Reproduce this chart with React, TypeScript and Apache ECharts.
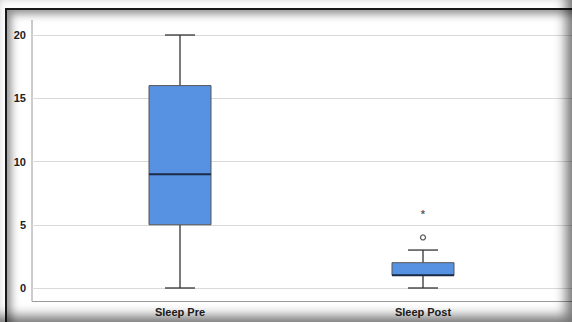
import React, { useEffect, useRef } from "react";
import * as echarts from "echarts";

const categories = ["Sleep Pre", "Sleep Post"];
const whiskerLow = [0, 0];
const q1 = [5, 1];
const median = [9, 1];
const q3 = [16, 2];
const whiskerHigh = [20, 3];
const outliers: [number, number][] = [[1, 4]];
const extremes: [number, number][] = [[1, 6]];
const yTicks = [0, 5, 10, 15, 20];

export default function App() {
  const ref = useRef<HTMLDivElement>(null);
  useEffect(() => {
    if (!ref.current) return;
    const chart = echarts.init(ref.current, null, { renderer: "svg" });
    const boxW = 62;
    const capW = 30;
    const labelFont = { fontFamily: "Liberation Sans, Arial, sans-serif", fontWeight: "bold" as const, fontSize: 11, color: "#222" };
    chart.setOption({
      animation: false,
      backgroundColor: "transparent",
      grid: [
        { left: 32, right: 0, top: 35, height: 253 },
        { left: 58.5, width: 486, top: 35, height: 253 },
      ],
      xAxis: [
        { gridIndex: 0, type: "category", data: categories, show: false },
        {
          gridIndex: 1,
          type: "category",
          data: categories,
          axisLine: { show: false },
          axisTick: { show: false },
          axisLabel: { ...labelFont, margin: 18 },
        },
      ],
      yAxis: [
        {
          gridIndex: 0,
          type: "value",
          min: yTicks[0],
          max: yTicks[yTicks.length - 1],
          interval: 5,
          axisLine: { show: false },
          axisTick: { show: false },
          axisLabel: { ...labelFont, margin: 6 },
          splitLine: { lineStyle: { color: "#d9d9d9", width: 1 } },
        },
        { gridIndex: 1, type: "value", min: 0, max: 20, show: false, splitLine: { show: false } },
      ],
      graphic: [
        { type: "line", shape: { x1: 32, y1: 20, x2: 32, y2: 301.5 }, style: { stroke: "#9a9a9a", lineWidth: 1 } },
        { type: "line", shape: { x1: 32, y1: 301.5, x2: 572, y2: 301.5 }, style: { stroke: "#9a9a9a", lineWidth: 1 } },
      ],
      series: [
        {
          type: "custom",
          xAxisIndex: 1,
          yAxisIndex: 1,
          data: categories.map((_, i) => [i, whiskerLow[i], q1[i], median[i], q3[i], whiskerHigh[i]]),
          renderItem: (params: any, api: any) => {
            const i = api.value(0);
            const pLo = api.coord([i, api.value(1)]);
            const pQ1 = api.coord([i, api.value(2)]);
            const pMed = api.coord([i, api.value(3)]);
            const pQ3 = api.coord([i, api.value(4)]);
            const pHi = api.coord([i, api.value(5)]);
            const cx = pLo[0];
            const ws = { stroke: "#333", lineWidth: 1.3 };
            return {
              type: "group",
              children: [
                { type: "line", shape: { x1: cx, y1: pHi[1], x2: cx, y2: pQ3[1] }, style: ws },
                { type: "line", shape: { x1: cx, y1: pQ1[1], x2: cx, y2: pLo[1] }, style: ws },
                { type: "line", shape: { x1: cx - capW / 2, y1: pHi[1], x2: cx + capW / 2, y2: pHi[1] }, style: ws },
                { type: "line", shape: { x1: cx - capW / 2, y1: pLo[1], x2: cx + capW / 2, y2: pLo[1] }, style: ws },
                {
                  type: "rect",
                  shape: { x: cx - boxW / 2, y: pQ3[1], width: boxW, height: pQ1[1] - pQ3[1] },
                  style: { fill: "#5792e2", stroke: "#555", lineWidth: 1 },
                },
                {
                  type: "line",
                  shape: { x1: cx - boxW / 2, y1: pMed[1], x2: cx + boxW / 2, y2: pMed[1] },
                  style: { stroke: "#1b2a45", lineWidth: 2 },
                },
              ],
            };
          },
        },
        {
          type: "scatter",
          xAxisIndex: 1,
          yAxisIndex: 1,
          data: outliers,
          symbol: "circle",
          symbolSize: 5,
          itemStyle: { color: "#fff", borderColor: "#333", borderWidth: 1.3 },
        },
        {
          type: "scatter",
          xAxisIndex: 1,
          yAxisIndex: 1,
          data: extremes,
          symbolSize: 0,
          label: {
            show: true,
            position: "inside",
            formatter: "*",
            fontFamily: "Liberation Sans, Arial, sans-serif",
            fontWeight: "bold",
            fontSize: 11,
            color: "#333",
            offset: [0, 2],
          },
        },
      ],
    });
    return () => chart.dispose();
  }, []);
  return (
    <div style={{ position: "fixed", left: 0, top: 0, width: 572, height: 322, background: "#fff", overflow: "hidden" }}>
      <div ref={ref} style={{ position: "absolute", left: 0, top: 0, width: 572, height: 322 }} />
      <div
        style={{
          position: "absolute",
          left: 5,
          top: 8,
          width: 580,
          height: 330,
          border: "2px solid #1a1a1a",
          boxShadow: "inset 3px 3px 8px 1px rgba(0,0,0,0.45)",
          pointerEvents: "none",
        }}
      />
      <div
        style={{
          position: "absolute",
          left: 0,
          top: 0,
          width: 572,
          height: 322,
          boxShadow: "inset -6px -6px 12px 0px rgba(0,0,0,0.55)",
          pointerEvents: "none",
        }}
      />
    </div>
  );
}
